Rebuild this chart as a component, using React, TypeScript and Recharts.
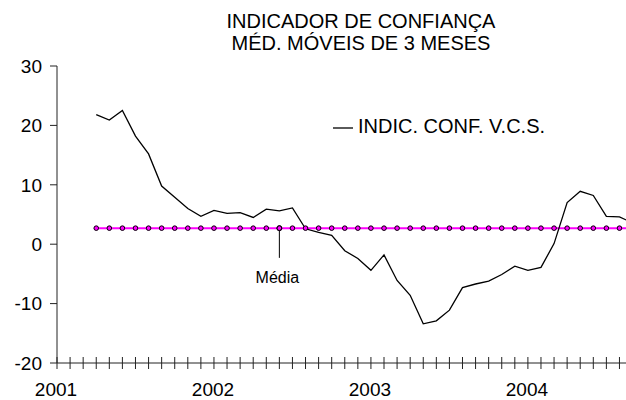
import { LineChart, Line, XAxis, YAxis, Legend, ReferenceDot, ReferenceLine } from "recharts";

const FONT = '"Liberation Sans", Arial, sans-serif';

// month index counted from jan/2001
const MONTHS = [
  3, 4, 5, 6, 7, 8, 9, 10, 11, 12, 13, 14, 15, 16, 17, 18, 19, 20, 21, 22, 23,
  24, 25, 26, 27, 28, 29, 30, 31, 32, 33, 34, 35, 36, 37, 38, 39, 40, 41, 42, 43, 44,
];
const INDIC_VCS = [
  21.8, 20.9, 22.5, 18.2, 15.2, 9.8, 7.9, 6.0, 4.7, 5.7, 5.2, 5.3, 4.5, 5.9, 5.6, 6.1,
  2.6, 2.0, 1.5, -1.1, -2.4, -4.4, -1.8, -6.1, -8.6, -13.4, -12.9, -11.1, -7.3, -6.7,
  -6.2, -5.1, -3.7, -4.4, -3.9, 0.1, 7.0, 8.9, 8.2, 4.7, 4.6, 3.6,
];
const MEDIA = 2.7;
const YEARS = ["2001", "2002", "2003", "2004"];
const Y_TICKS = [-20, -10, 0, 10, 20, 30];
const MONTH_TICKS = Array.from({ length: 44 }, (_, i) => i);

const data = MONTHS.map((m, i) => ({ m, indic: INDIC_VCS[i], media: MEDIA }));

function MonthTick(props: any) {
  const { x, y, payload } = props;
  const v = payload.value as number;
  const label = v % 12 === 0 ? YEARS[v / 12] : null;
  return (
    <g>
      <line x1={x} x2={x} y1={y - 6} y2={y + 6} stroke="#222" strokeWidth={1} />
      {label && (
        <text x={x - 1} y={y + 32.5} textAnchor="middle" fontSize={19} fill="#000" fontFamily={FONT}>
          {label}
        </text>
      )}
    </g>
  );
}

function LegendBox() {
  return (
    <div style={{ display: "flex", alignItems: "center", fontSize: 20, color: "#000", fontFamily: FONT }}>
      <svg width={24} height={20}>
        <line x1={2} x2={22} y1={11} y2={11} stroke="#000" strokeWidth={1.3} />
      </svg>
      <span style={{ marginLeft: 3 }}>INDIC. CONF. V.C.S.</span>
    </div>
  );
}

export default function App() {
  return (
    <div style={{ position: "absolute", left: 0, top: 0, width: 626, height: 400, background: "#fff", fontFamily: FONT }}>
      <div
        style={{
          position: "absolute",
          left: 211,
          top: 10,
          width: 300,
          textAlign: "center",
          fontSize: 20,
          lineHeight: "22px",
          color: "#000",
          whiteSpace: "nowrap",
        }}
      >
        INDICADOR DE CONFIANÇA
        <br />
        MÉD. MÓVEIS DE 3 MESES
      </div>
      <LineChart
        width={626}
        height={400}
        data={data}
        margin={{ top: 66, right: 0, bottom: 0, left: 0 }}
        style={{ fontFamily: FONT }}
      >
        <XAxis
          dataKey="m"
          type="number"
          domain={[0, 43.5]}
          allowDataOverflow
          ticks={MONTH_TICKS}
          interval={0}
          height={37}
          tickSize={0}
          tickMargin={0}
          tickLine={false}
          axisLine={{ stroke: "#222" }}
          tick={<MonthTick />}
        />
        <YAxis
          type="number"
          domain={[-20, 30]}
          ticks={Y_TICKS}
          width={57}
          tickSize={7}
          tickMargin={8}
          tickLine={{ stroke: "#222" }}
          axisLine={{ stroke: "#222" }}
          tick={{ fontSize: 19, fill: "#000" }}
        />
        <Legend
          verticalAlign="middle"
          layout="horizontal"
          content={<LegendBox />}
          wrapperStyle={{ position: "absolute", left: 331, top: 115, width: "auto" }}
        />
        <Line
          dataKey="media"
          stroke="#FF00FF"
          strokeWidth={2}
          dot={{ r: 2.3, fill: "#FF00FF", stroke: "#000", strokeWidth: 1 }}
          isAnimationActive={false}
        />
        <Line dataKey="indic" stroke="#000" strokeWidth={1.3} dot={false} isAnimationActive={false} />
        <ReferenceLine
          segment={[
            { x: 17, y: MEDIA },
            { x: 17, y: -2.3 },
          ]}
          stroke="#000"
          strokeWidth={1}
        />
        <ReferenceDot x={17} y={MEDIA} r={2.5} fill="#000" stroke="#000" />
        <ReferenceDot
          x={17}
          y={-5.5}
          r={1}
          fill="none"
          stroke="none"
          label={{ value: "Média", position: "center", fontSize: 16, fill: "#000", dx: -2 }}
        />
      </LineChart>
    </div>
  );
}
